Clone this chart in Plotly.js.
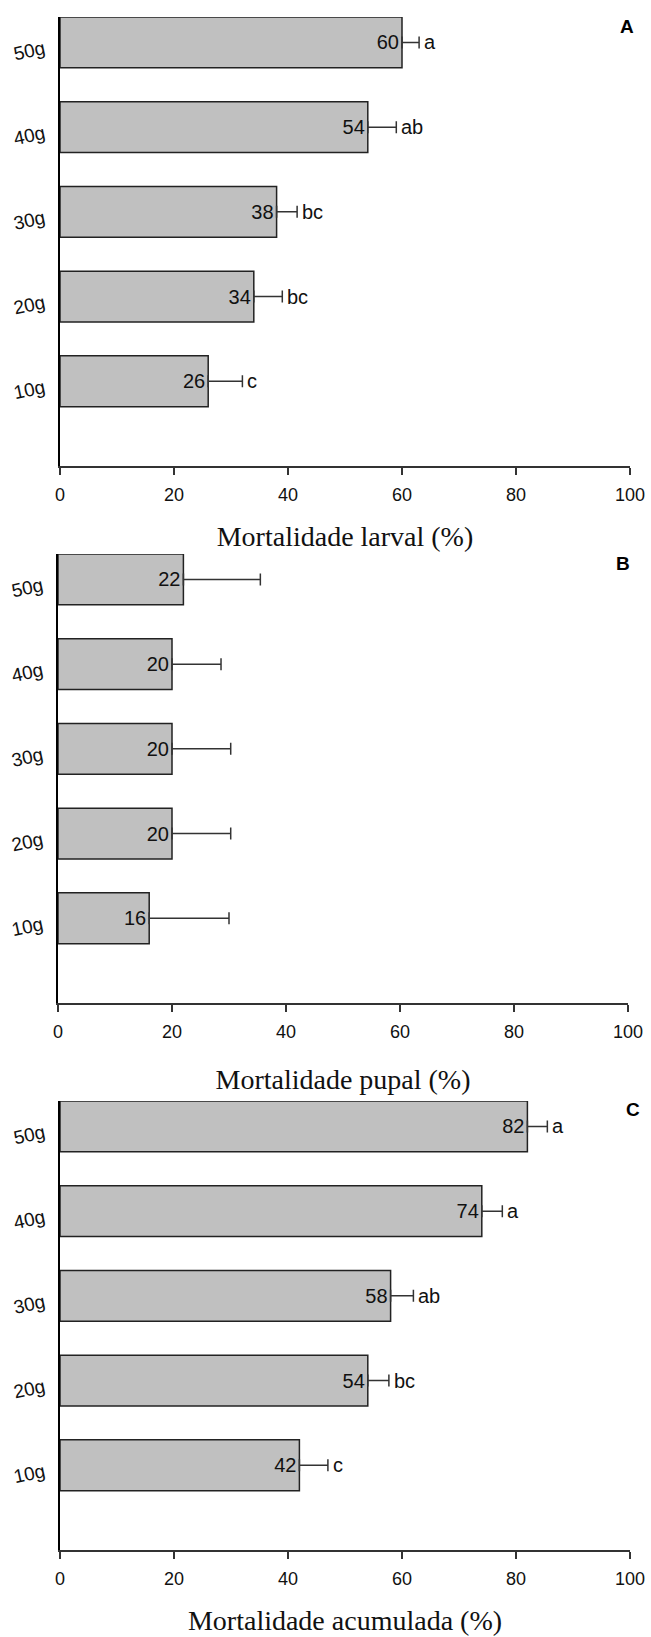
<!DOCTYPE html>
<html>
<head>
<meta charset="utf-8">
<script src="https://cdn.plot.ly/plotly-3.0.1.min.js"></script>
<style>html,body{margin:0;padding:0;background:#fff;}#chart{width:651px;height:1637px;}</style>
</head>
<body>
<div id="chart"></div>
<script>
const categories = ['10g', '20g', '30g', '40g', '50g'];
const xTicks = [0, 20, 40, 60, 80, 100];

const larvalMean = [26, 34, 38, 54, 60];
const larvalErr = [6, 5, 3.6, 5, 3];
const larvalLetters = ['c', 'bc', 'bc', 'ab', 'a'];

const pupalMean = [16, 20, 20, 20, 22];
const pupalErr = [14, 10.3, 10.3, 8.6, 13.5];
const pupalLetters = ['', '', '', '', ''];

const accumMean = [42, 54, 58, 74, 82];
const accumErr = [5, 3.7, 4, 3.6, 3.5];
const accumLetters = ['c', 'bc', 'ab', 'a', 'a'];

const panels = [
  {mean: larvalMean, err: larvalErr, letters: larvalLetters, title: 'Mortalidade larval (%)', tag: 'A'},
  {mean: pupalMean, err: pupalErr, letters: pupalLetters, title: 'Mortalidade pupal (%)', tag: 'B'},
  {mean: accumMean, err: accumErr, letters: accumLetters, title: 'Mortalidade acumulada (%)', tag: 'C'}
];

const W = 651, H = 1637;
const boxes = [
  {l: 60, r: 630, t: 17, b: 466, tagX: 627, tagY: 27, standoff: 22},
  {l: 58, r: 628, t: 554, b: 1003, tagX: 623, tagY: 563, standoff: 28},
  {l: 60, r: 630, t: 1101, b: 1550, tagX: 633, tagY: 1109, standoff: 22}
];

const sans = 'Arial, "Liberation Sans", sans-serif';
const serif = '"Times New Roman", "Liberation Serif", serif';
const idx = categories.map((c, i) => i);

const data = [];
const annotations = [];
const layout = {
  width: W, height: H,
  margin: {l: 0, r: 0, t: 0, b: 0},
  paper_bgcolor: '#fff', plot_bgcolor: '#fff',
  showlegend: false,
  annotations: annotations
};

panels.forEach((p, k) => {
  const s = k === 0 ? '' : String(k + 1);
  const bx = boxes[k];
  data.push({
    type: 'bar', orientation: 'h',
    x: p.mean, y: idx,
    xaxis: 'x' + s, yaxis: 'y' + s,
    width: 0.6,
    marker: {color: '#c0c0c0', line: {color: '#222', width: 1.5}},
    text: p.mean.map(String),
    textposition: 'inside', insidetextanchor: 'end',
    insidetextfont: {family: sans, size: 20, color: '#111'},
    constraintext: 'none',
    cliponaxis: false,
    error_x: {type: 'data', symmetric: false, array: p.err, arrayminus: p.err.map(() => 0),
              color: '#333', thickness: 1.5, width: 6},
    hoverinfo: 'none'
  });
  p.letters.forEach((L, i) => {
    if (!L) return;
    annotations.push({
      xref: 'x' + s, yref: 'y' + s,
      x: p.mean[i] + p.err[i], y: i,
      text: L, showarrow: false, xanchor: 'left', yanchor: 'middle',
      xshift: 3, font: {family: sans, size: 20, color: '#111'}
    });
  });
  annotations.push({
    xref: 'paper', yref: 'paper',
    x: bx.tagX / W, y: 1 - bx.tagY / H,
    text: '<b>' + p.tag + '</b>', showarrow: false,
    xanchor: 'center', yanchor: 'middle',
    font: {family: sans, size: 19, color: '#000'}
  });
  layout['xaxis' + s] = {
    domain: [bx.l / W, bx.r / W],
    anchor: 'y' + s,
    range: [0, 100],
    tickvals: xTicks, ticktext: xTicks.map(String),
    ticks: 'outside', ticklen: 7, tickwidth: 1.5, tickcolor: '#333',
    ticklabelstandoff: 5,
    tickfont: {family: sans, size: 18, color: '#111'},
    showline: true, linecolor: '#333', linewidth: 1.5,
    showgrid: false, zeroline: false, fixedrange: true,
    title: {text: p.title, font: {family: serif, size: 28, color: '#111'}, standoff: bx.standoff}
  };
  layout['yaxis' + s] = {
    domain: [1 - bx.b / H, 1 - bx.t / H],
    anchor: 'x' + s,
    range: [-1, 4.3],
    tickvals: idx, ticktext: categories,
    ticks: '', tickangle: -12,
    ticklabelstandoff: 10,
    ticklabelshift: 5,
    tickfont: {family: sans, size: 19, color: '#111'},
    showline: true, linecolor: '#000', linewidth: 2,
    showgrid: false, zeroline: false, fixedrange: true
  };
});

Plotly.newPlot('chart', data, layout, {staticPlot: true, displayModeBar: false});
</script>
</body>
</html>
